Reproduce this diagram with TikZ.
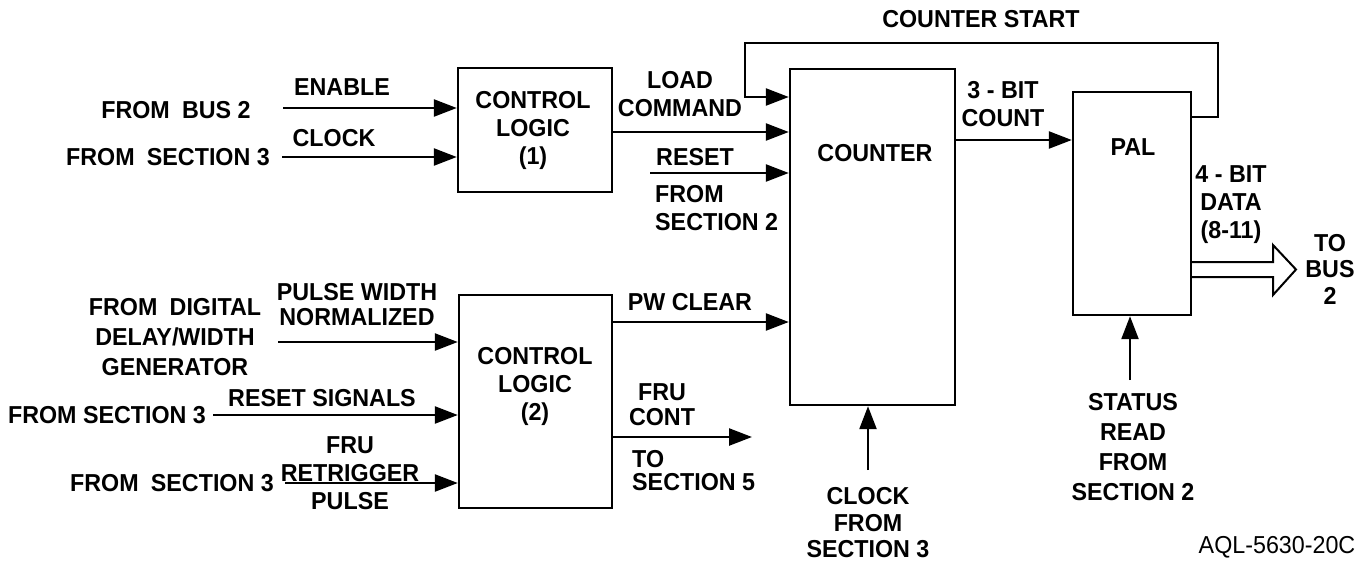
\documentclass[tikz,border=0pt]{standalone}
\usepackage{fontspec}
\setmainfont{Liberation Sans}[FakeStretch=0.95]
\usetikzlibrary{arrows.meta}
\begin{document}
\begin{tikzpicture}[x=1pt,y=-1pt,
  lw/.style={line width=2.4pt},
  blk/.style={draw,lw,inner sep=0pt,minimum width=#1},
  arr/.style={lw,-{Triangle[length=23pt,width=17pt]}},
  txt/.style={inner sep=0pt,align=center,font=\bfseries\fontsize{24.5}{28}\selectfont},
  txtl/.style={inner sep=0pt,align=left,font=\bfseries\fontsize{24.5}{28}\selectfont},
]
\fill[white] (0,0) rectangle (1371,563);
\useasboundingbox (0,0) rectangle (1371,563);

% blocks
\node[blk=154pt,minimum height=124pt] (cl1) at (535,130) {};
\node[blk=153pt,minimum height=213pt] (cl2) at (535.5,401.5) {};
\node[blk=165pt,minimum height=336pt] (cnt) at (872.5,237) {};
\node[blk=118pt,minimum height=223pt] (pal) at (1132,203.5) {};

% block texts
\node[txt] (t1) at (533,130) {CONTROL\\LOGIC\\(1)};
\node[txt] (t2) at (535,386) {CONTROL\\LOGIC\\(2)};
\node[txt] (t3) at (875,153) {COUNTER};
\node[txt] (t4) at (1133,147) {PAL};

% free ends
\coordinate (enS) at (283,108);
\coordinate (ckS) at (282,157);
\coordinate (rsS) at (650,173);
\coordinate (pwS) at (278,342);
\coordinate (rgS) at (213,415);
\coordinate (frS) at (285,483);
\coordinate (fcE) at (752,437);
\coordinate (clkS) at (868,470);
\coordinate (stS) at (1130,380);
\coordinate (csA) at (1218,117);
\coordinate (csB) at (745,43);

% connectors
\draw[arr] (enS) -- (enS -| cl1.west);
\draw[arr] (ckS) -- (ckS -| cl1.west);
\draw[arr] ([yshift=-2pt]cl1.east) -- ([yshift=-2pt]cl1.east -| cnt.west);
\draw[arr] (rsS) -- (rsS -| cnt.west);
\draw[arr] (pal.east |- csA) -- (csA) -- (csA |- csB) -- (csB) -- (csB |- 0,97) -- (cnt.west |- 0,97);
\draw[arr] (cnt.east |- 0,140) -- (pal.west |- 0,140);
\draw[arr] (cl2.east |- 0,322) -- (cnt.west |- 0,322);
\draw[arr] (cl2.east |- fcE) -- (fcE);
\draw[arr] (clkS) -- (clkS |- cnt.south);
\draw[arr] (stS) -- (stS |- pal.south);
\draw[arr] (pwS) -- (pwS -| cl2.west);
\draw[arr] (rgS) -- (rgS -| cl2.west);
\draw[arr] (frS) -- (frS -| cl2.west);
% bus arrow
\draw[line width=2pt,line join=miter] (pal.east |- 0,262) -- (1273,262) -- (1273,245) -- (1296,269.5) -- (1273,295) -- (1273,277) -- (pal.east |- 0,277);

% labels
\node[txt] (l1) at (176,110) {FROM\hskip0.5em BUS 2};
\node[txt] (l2) at (168,157) {FROM\hskip0.5em SECTION 3};
\node[txt] (l3) at (342,87) {ENABLE};
\node[txt] (l4) at (334,138) {CLOCK};
\node[txt] (l5) at (680,94) {LOAD\\COMMAND};
\node[txt] (l6) at (695,157) {RESET};
\node[txtl,anchor=west] (l7) at (655,208.5) {FROM\\SECTION 2};
\node[txt] (l8) at (981,19) {COUNTER START};
\node[txt] (l9) at (1003,104) {3 - BIT\\COUNT};
\node[txt] (l10) at (1231,205) {4 - BIT\\DATA\\(8-11)};
\node[txt,font=\bfseries\fontsize{24.5}{26.5}\selectfont] (l11) at (1330,269) {TO\\BUS\\2};
\node[txt,font=\bfseries\fontsize{24.5}{30}\selectfont] (l12) at (1133,447) {STATUS\\READ\\FROM\\SECTION 2};
\node[txt,font=\fontsize{24.5}{28}\selectfont] (l13) at (1277,547) {AQL-5630-20C};
\node[txt] (l14) at (690,302) {PW CLEAR};
\node[txt,font=\bfseries\fontsize{24.5}{25}\selectfont] (l15) at (662,404.5) {FRU\\CONT};
\node[txtl,anchor=west,font=\bfseries\fontsize{24.5}{23}\selectfont] (l16) at (632,471) {TO\\SECTION 5};
\node[txt,font=\bfseries\fontsize{24.5}{26.5}\selectfont] (l17) at (868,523) {CLOCK\\FROM\\SECTION 3};
\node[txt,font=\bfseries\fontsize{24.5}{30}\selectfont] (l18) at (175,337) {FROM\hskip0.5em DIGITAL\\DELAY/WIDTH\\GENERATOR};
\node[txt,font=\bfseries\fontsize{24.5}{25}\selectfont] (l19) at (357,304.5) {PULSE WIDTH\\NORMALIZED};
\node[txt] (l20) at (107,415) {FROM SECTION 3};
\node[txt] (l21) at (322,398) {RESET SIGNALS};
\node[txt] (l22) at (350,473) {FRU\\RETRIGGER\\PULSE};
\node[txt] (l23) at (172,483) {FROM\hskip0.5em SECTION 3};
\end{tikzpicture}
\end{document}
